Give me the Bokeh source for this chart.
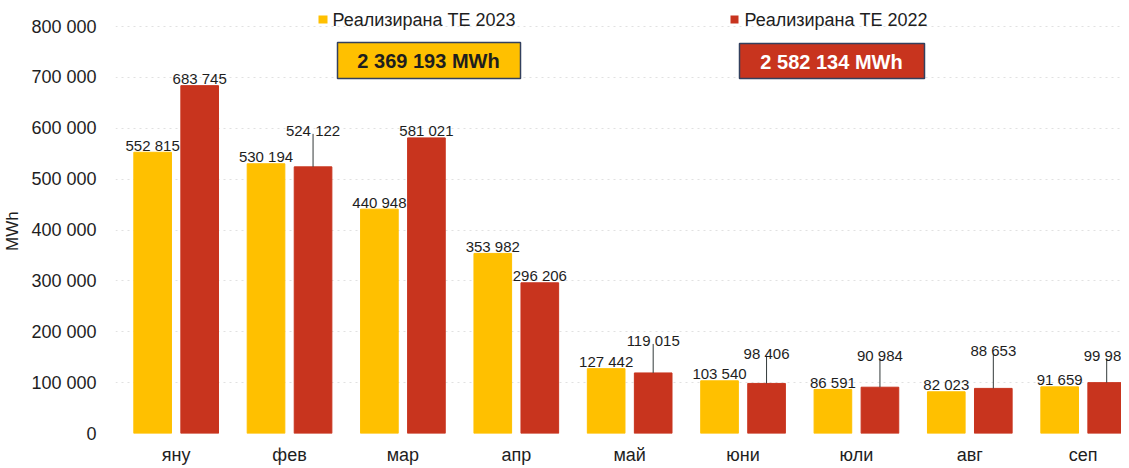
import numpy as np
from bokeh.plotting import figure
from bokeh.models import ColumnDataSource, Range1d, FixedTicker, BoxAnnotation, Label
from bokeh.transform import dodge
from bokeh.core.properties import value
from bokeh.embed import file_html
from bokeh.resources import INLINE

# ---------------- data ----------------
months = ["яну", "фев", "мар", "апр", "май", "юни", "юли", "авг", "сеп"]
te_2023 = [552815, 530194, 440948, 353982, 127442, 103540, 86591, 82023, 91659]
te_2022 = [683745, 524122, 581021, 296206, 119015, 98406, 90984, 88653, 99982]
total_2023 = "2 369 193 MWh"
total_2022 = "2 582 134 MWh"
legend_2023 = "Реализирана ТЕ 2023"
legend_2022 = "Реализирана ТЕ 2022"
y_ticks = [0, 100000, 200000, 300000, 400000, 500000, 600000, 700000, 800000]
y_title = "MWh"

# ---------------- styles ----------------
YELLOW = "#FFC000"
RED = "#C8341E"
TEXT = "#1e1e1e"
FONT = "Liberation Sans"
# extra lift (px) for 2022 labels that are drawn with a leader line
lift_2022 = [0, 29, 0, 0, 25, 23, 25, 31, 20]
GAP = 7
DODGE = 0.2074
BAR_W = 0.332

W, H = 1121, 467
BL, BB, BT = 105, 34, 0
frame_h = H - BB - BT
PX_PER_100K = 407 / 8.0
Y_END = frame_h / PX_PER_100K * 100000
upp = Y_END / frame_h  # data units per pixel


def fmt(v):
    return f"{v:,}".replace(",", " ")


x = np.arange(len(months))
src = ColumnDataSource(dict(
    x=x,
    y23=te_2023,
    y22=te_2022,
    t23=[fmt(v) for v in te_2023],
    t22=[fmt(v) for v in te_2022],
    off22=[-(GAP + l) for l in lift_2022],
))

p = figure(width=W, height=H, output_backend="svg", toolbar_location=None,
           x_range=Range1d(-0.535, 8.338), y_range=Range1d(0, Y_END),
           min_border_left=BL, min_border_right=0, min_border_top=BT,
           min_border_bottom=BB)
p.outline_line_color = None
p.background_fill_color = "white"
p.border_fill_color = "white"

p.vbar(x=dodge("x", -DODGE), top="y23", width=BAR_W, color=YELLOW, source=src)
p.vbar(x=dodge("x", DODGE), top="y22", width=BAR_W, color=RED, source=src)

# leader lines
lead_idx = [i for i, l in enumerate(lift_2022) if l > 0]
lead_src = ColumnDataSource(dict(
    x=[x[i] + DODGE for i in lead_idx],
    y0=[te_2022[i] for i in lead_idx],
    y1=[te_2022[i] + (GAP + lift_2022[i] - 3) * upp for i in lead_idx],
))
p.segment(x0="x", y0="y0", x1="x", y1="y1", line_color="#333a3a", line_width=1,
          source=lead_src)

p.text(x=dodge("x", -DODGE), y="y23", text="t23", y_offset=-GAP,
       text_align="center", text_baseline="alphabetic",
       text_font=value(FONT), text_font_size="15px", text_color=TEXT, source=src)
p.text(x=dodge("x", DODGE), y="y22", text="t22", y_offset="off22",
       text_align="center", text_baseline="alphabetic",
       text_font=value(FONT), text_font_size="15px", text_color=TEXT, source=src)

# axes
p.xaxis.ticker = FixedTicker(ticks=list(x))
p.xaxis.major_label_overrides = {int(i): m for i, m in zip(x, months)}
p.xaxis.major_label_text_font = FONT
p.xaxis.major_label_text_font_size = "18px"
p.xaxis.major_label_text_color = TEXT
p.xaxis.major_label_standoff = 5
p.xaxis.axis_line_color = None
p.xaxis.major_tick_line_color = None
p.xaxis.minor_tick_line_color = None

p.yaxis.ticker = FixedTicker(ticks=y_ticks)
p.yaxis.major_label_overrides = {t: fmt(t) for t in y_ticks}
p.yaxis.major_label_text_font = FONT
p.yaxis.major_label_text_font_size = "18px"
p.yaxis.major_label_text_color = TEXT
p.yaxis.major_label_standoff = 13
p.yaxis.axis_line_color = None
p.yaxis.major_tick_line_color = None
p.yaxis.minor_tick_line_color = None
# trailing no-break spaces shift the rotated title down to sit beside 400 000
p.yaxis.axis_label = y_title + "\u00a0" * 6
p.yaxis.axis_label_text_font = FONT
p.yaxis.axis_label_text_font_size = "17px"
p.yaxis.axis_label_text_font_style = "normal"
p.yaxis.axis_label_text_color = TEXT
p.yaxis.axis_label_standoff = 6

p.xgrid.visible = False
p.ygrid.grid_line_color = "#dadada"
p.ygrid.grid_line_dash = "2 4"
p.ygrid.grid_line_alpha = 0.8

# legend and totals (screen units: from the frame's left and bottom edges)
def box(l, r, b, t, fill, line):
    return BoxAnnotation(left=l, right=r, bottom=b, top=t,
                         left_units="screen", right_units="screen",
                         bottom_units="screen", top_units="screen",
                         fill_color=fill, fill_alpha=1.0,
                         line_color=line, line_width=1.5, line_alpha=1.0)

p.add_layout(box(203, 212, 410, 418, YELLOW, None))
p.add_layout(box(615, 623, 410, 418, RED, None))
p.add_layout(Label(x=217, y=414, x_units="screen", y_units="screen", text=legend_2023,
                   text_font=FONT, text_font_size="18px", text_color=TEXT,
                   text_align="left", text_baseline="middle"))
p.add_layout(Label(x=629, y=414, x_units="screen", y_units="screen", text=legend_2022,
                   text_font=FONT, text_font_size="18px", text_color=TEXT,
                   text_align="left", text_baseline="middle"))

p.add_layout(box(222, 405, 355, 391, YELLOW, "#33405e"))
p.add_layout(box(624, 809, 355, 390, RED, "#33405e"))
p.add_layout(Label(x=313, y=373, x_units="screen", y_units="screen", text=total_2023,
                   text_font=FONT, text_font_size="20px", text_font_style="bold",
                   text_color=TEXT, text_align="center", text_baseline="middle"))
p.add_layout(Label(x=716, y=372, x_units="screen", y_units="screen", text=total_2022,
                   text_font=FONT, text_font_size="20px", text_font_style="bold",
                   text_color="white", text_align="center", text_baseline="middle"))

open("out.html", "w").write(file_html(p, INLINE))
